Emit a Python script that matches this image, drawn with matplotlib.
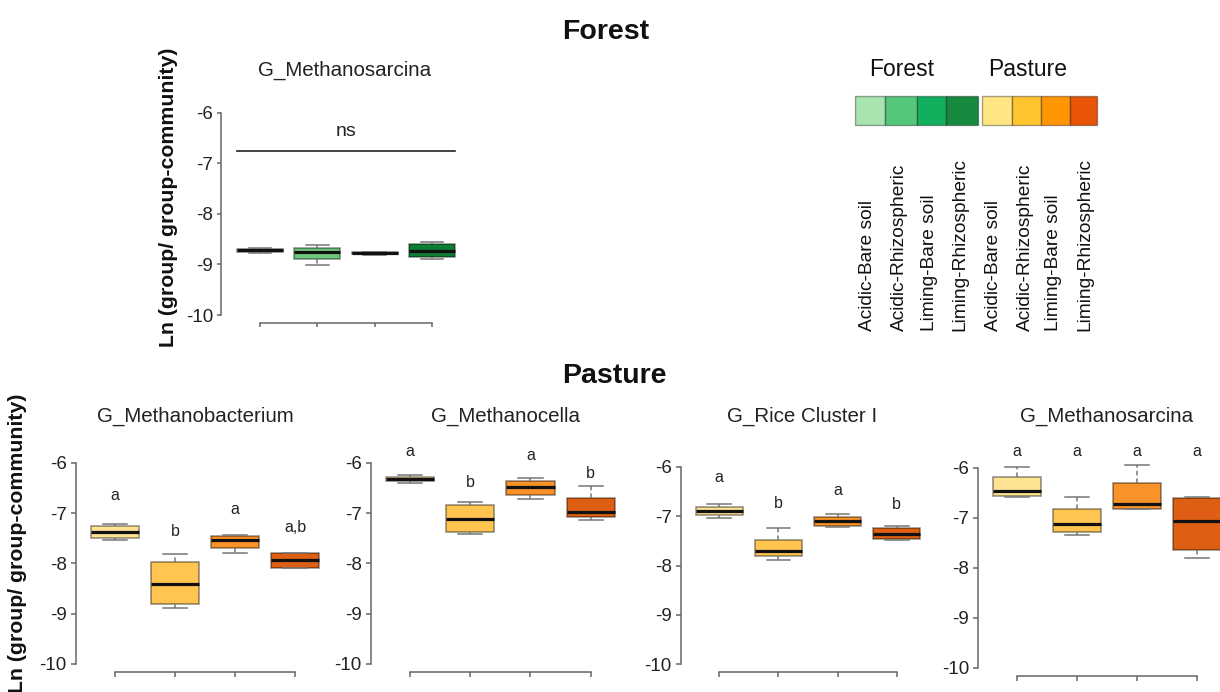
import matplotlib
matplotlib.use("Agg")
import matplotlib.pyplot as plt
from matplotlib.patches import Rectangle

plt.rcParams['font.family'] = ['Liberation Sans', 'DejaVu Sans']

W, H = 1220, 692

# ---------------- data ----------------
groups = ["Acidic-Bare soil", "Acidic-Rhizospheric", "Liming-Bare soil", "Liming-Rhizospheric"]
forest_colors = ['#A3DBAA', '#6CC77D', '#22A65B', '#0E7C33']
pasture_colors = ['#FFE394', '#FFC550', '#F99228', '#DE5F14']
legend_forest = ['#A8E4B0', '#55C77A', '#12B05E', '#168A3E']
legend_pasture = ['#FFE683', '#FFC42E', '#FF9500', '#E85508']

# Forest G_Methanosarcina
f_sarc_med = [-8.72, -8.75, -8.78, -8.73]
f_sarc_q1 = [-8.76, -8.90, -8.80, -8.86]
f_sarc_q3 = [-8.69, -8.67, -8.76, -8.59]
f_sarc_lo = [-8.77, -9.01, -8.81, -8.90]
f_sarc_hi = [-8.67, -8.61, -8.75, -8.55]

# Pasture G_Methanobacterium
p_bact_med = [-7.38, -8.41, -7.53, -7.94]
p_bact_q1 = [-7.50, -8.81, -7.70, -8.10]
p_bact_q3 = [-7.26, -7.97, -7.45, -7.79]
p_bact_lo = [-7.54, -8.89, -7.80, -8.10]
p_bact_hi = [-7.21, -7.82, -7.44, -7.79]
p_bact_letters = ['a', 'b', 'a', 'a,b']
p_bact_letter_y = [-6.66, -7.36, -6.93, -7.28]

# Pasture G_Methanocella
p_cella_med = [-6.32, -7.12, -6.48, -6.97]
p_cella_q1 = [-6.36, -7.37, -6.65, -7.08]
p_cella_q3 = [-6.29, -6.85, -6.36, -6.70]
p_cella_lo = [-6.40, -7.41, -6.73, -7.14]
p_cella_hi = [-6.25, -6.79, -6.30, -6.46]
p_cella_letters = ['a', 'b', 'a', 'b']
p_cella_letter_y = [-5.77, -6.39, -5.85, -6.22]

# Pasture G_Rice Cluster I
p_rice_med = [-6.89, -7.71, -7.09, -7.36]
p_rice_q1 = [-6.98, -7.80, -7.20, -7.47]
p_rice_q3 = [-6.82, -7.48, -7.01, -7.25]
p_rice_lo = [-7.04, -7.88, -7.23, -7.49]
p_rice_hi = [-6.75, -7.25, -6.95, -7.20]
p_rice_letters = ['a', 'b', 'a', 'b']
p_rice_letter_y = [-6.22, -6.75, -6.49, -6.76]

# Pasture G_Methanosarcina
p_sarc_med = [-6.47, -7.12, -6.73, -7.06]
p_sarc_q1 = [-6.57, -7.28, -6.82, -7.65]
p_sarc_q3 = [-6.19, -6.82, -6.30, -6.60]
p_sarc_lo = [-6.58, -7.35, -6.82, -7.80]
p_sarc_hi = [-5.98, -6.58, -5.95, -6.58]
p_sarc_letters = ['a', 'a', 'a', 'a']
p_sarc_letter_y = [-5.67, -5.67, -5.67, -5.67]

yticks = [-10, -9, -8, -7, -6]


def fx(x):
    return x / W


def fy(y):
    return 1 - y / H


fig = plt.figure(figsize=(W / 100, H / 100), dpi=100)


def make_axes(left, t1, t4, y6, y10, ticklen):
    sx = (t4 - t1) / 3.0
    sy = (y10 - y6) / 4.0
    xlo = 1 - (t1 - left) / sx
    xhi = 4.5
    right = t4 + 0.5 * sx
    top = y6 - 0.16 * sy
    bottom = y10 + 0.16 * sy
    ax = fig.add_axes([fx(left), fy(bottom), (right - left) / W, (bottom - top) / H])
    ax.set_xlim(xlo, xhi)
    ax.set_ylim(-10.16, -5.84)
    ax.patch.set_alpha(0)
    for s in ['top', 'right']:
        ax.spines[s].set_visible(False)
    ax.spines['left'].set_bounds(-10, -6)
    ax.spines['bottom'].set_bounds(1, 4)
    for s in ['left', 'bottom']:
        ax.spines[s].set_color('#666666')
        ax.spines[s].set_linewidth(1.1)
    ax.set_yticks(yticks)
    ax.set_yticklabels([str(t) for t in yticks])
    ax.set_xticks([1, 2, 3, 4])
    ax.set_xticklabels([])
    ax.tick_params(axis='both', direction='out', length=ticklen, width=1.1, color='#666666',
                   labelsize=13.5, labelcolor='#222222', pad=3)
    return ax


def draw_boxes(ax, med, q1, q3, lo, hi, colors):
    stats = []
    for i in range(4):
        stats.append({'med': med[i], 'q1': q1[i], 'q3': q3[i],
                      'whislo': lo[i], 'whishi': hi[i], 'fliers': []})
    bp = ax.bxp(stats, positions=[1, 2, 3, 4], widths=0.8, patch_artist=True,
                showfliers=False, manage_ticks=False, capwidths=0.4,
                boxprops=dict(linewidth=1.1, edgecolor=(0, 0, 0, 0.45)),
                medianprops=dict(color='#111111', linewidth=2.3),
                whiskerprops=dict(color='#777777', linewidth=1.1, linestyle=(0, (3, 2))),
                capprops=dict(color='#777777', linewidth=1.1))
    for patch, c in zip(bp['boxes'], colors):
        patch.set_facecolor(c)


def letters(ax, labels, ys):
    for i, (lab, y) in enumerate(zip(labels, ys)):
        ax.text(i + 1, y, lab, ha='center', va='center', fontsize=11.5,
                color='#222222', clip_on=False)


# ---------------- Forest panel ----------------
axf = make_axes(221, 260, 432, 112.5, 315, 2.6)
draw_boxes(axf, f_sarc_med, f_sarc_q1, f_sarc_q3, f_sarc_lo, f_sarc_hi, forest_colors)
axf.plot([0.6, 4.4], [-6.77, -6.77], color='#222222', linewidth=1.2)
axf.text(2.5, -6.38, 'ns', ha='center', va='center', fontsize=14, color='#222222')
fig.text(fx(345), fy(70), 'G_Methanosarcina', ha='center', va='center', fontsize=14.8, color='#222222')
fig.text(fx(169), fy(197), 'Ln (group/ group-community)', rotation=90, ha='center', va='center',
         fontsize=15.3, fontweight='bold', color='#111111')

# ---------------- Pasture panels ----------------
pan = [
    ((76, 115, 295, 462.7, 664), (p_bact_med, p_bact_q1, p_bact_q3, p_bact_lo, p_bact_hi),
     p_bact_letters, p_bact_letter_y, 'G_Methanobacterium', 195),
    ((370.7, 410, 590.7, 462.7, 664), (p_cella_med, p_cella_q1, p_cella_q3, p_cella_lo, p_cella_hi),
     p_cella_letters, p_cella_letter_y, 'G_Methanocella', 505),
    ((681, 719.3, 896.7, 466.7, 664.3), (p_rice_med, p_rice_q1, p_rice_q3, p_rice_lo, p_rice_hi),
     p_rice_letters, p_rice_letter_y, 'G_Rice Cluster I', 802),
    ((978.3, 1017.3, 1196.7, 467.7, 667.7), (p_sarc_med, p_sarc_q1, p_sarc_q3, p_sarc_lo, p_sarc_hi),
     p_sarc_letters, p_sarc_letter_y, 'G_Methanosarcina', 1107),
]
for geo, st, labs, ly, title, tx in pan:
    ax = make_axes(*geo, 3.6)
    draw_boxes(ax, *st, pasture_colors)
    letters(ax, labs, ly)
    fig.text(fx(tx), fy(416), title, ha='center', va='center', fontsize=14.8, color='#222222')

fig.text(fx(18), fy(543), 'Ln (group/ group-community)', rotation=90, ha='center', va='center',
         fontsize=15.3, fontweight='bold', color='#111111')

# ---------------- Section titles ----------------
fig.text(fx(606), fy(32), 'Forest', ha='center', va='center', fontsize=20.5, fontweight='bold', color='#111111')
fig.text(fx(614), fy(376), 'Pasture', ha='center', va='center', fontsize=20.5, fontweight='bold', color='#111111')

# ---------------- Legend ----------------
fig.text(fx(902), fy(70), 'Forest', ha='center', va='center', fontsize=16.5, color='#111111')
fig.text(fx(1028), fy(70), 'Pasture', ha='center', va='center', fontsize=16.5, color='#111111')
edges_f = [855, 885, 916.5, 946, 977.5]
edges_p = [981.5, 1011.5, 1041, 1070, 1097.3]
for edges, cols in ((edges_f, legend_forest), (edges_p, legend_pasture)):
    for i in range(4):
        r = Rectangle((fx(edges[i]), fy(124.5)), (edges[i + 1] - edges[i]) / W, 28.5 / H,
                      transform=fig.transFigure, facecolor=cols[i],
                      edgecolor=(0, 0, 0, 0.35), linewidth=1.0)
        fig.add_artist(r)

label_x = [868, 899, 929, 960, 993, 1025, 1054, 1085]
for x, lab in zip(label_x, groups + groups):
    fig.text(fx(x), fy(331), lab, rotation=90, ha='center', va='bottom', fontsize=13.8, color='#111111')

fig.savefig('out.png', dpi=100)
